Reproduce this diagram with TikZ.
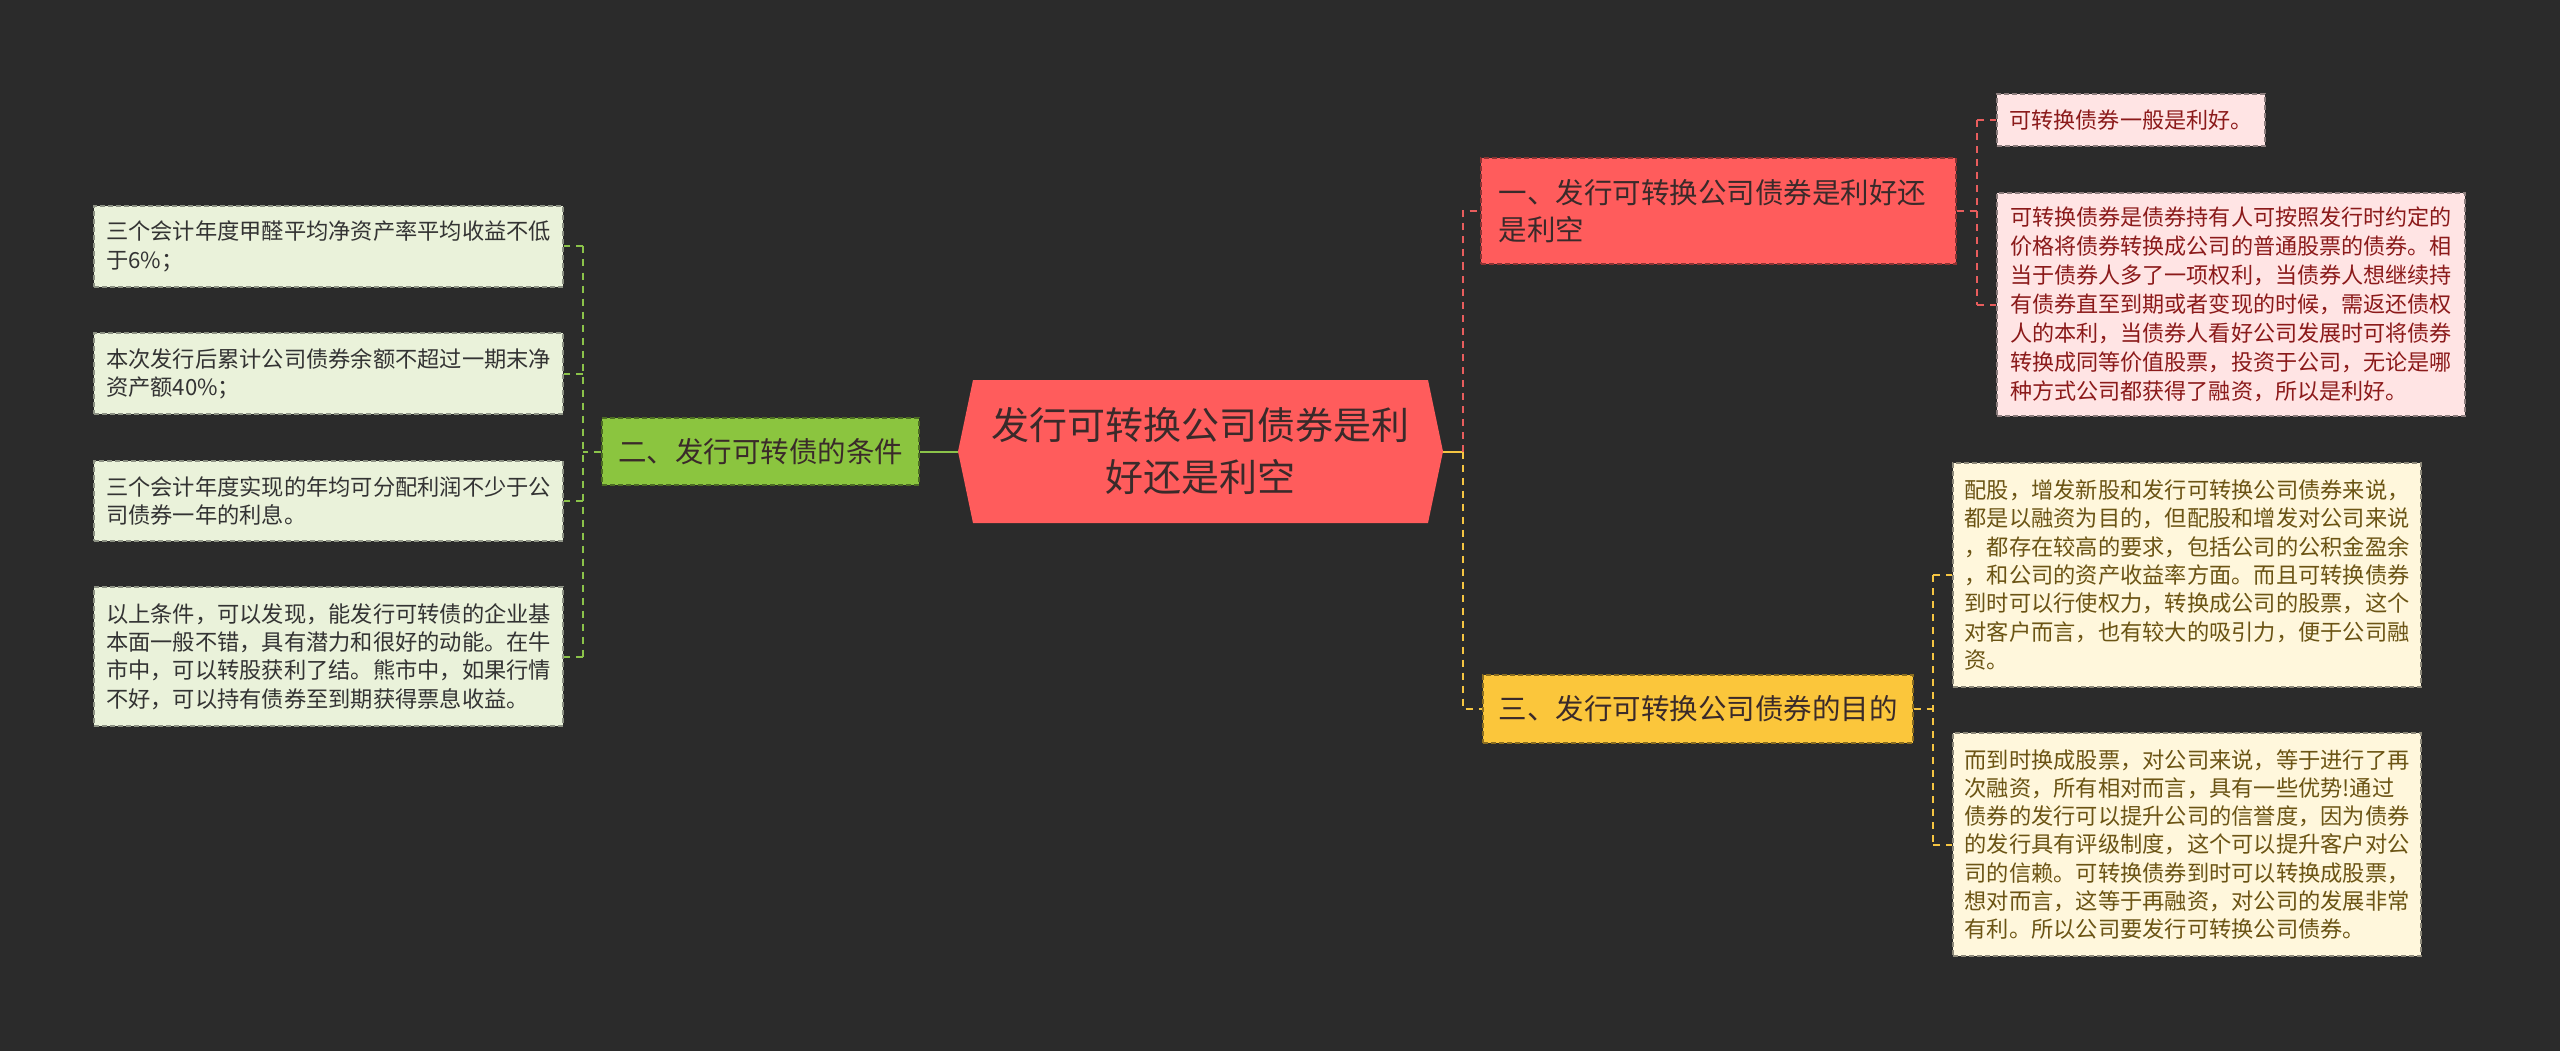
\documentclass[tikz,border=0pt]{standalone}
\usepackage{fontspec}
\newfontfamily\cjk{Noto Sans CJK SC}
\usetikzlibrary{calc}
\definecolor{bg}{HTML}{2B2B2B}
\definecolor{redfill}{HTML}{FF5C5C}
\definecolor{greenfill}{HTML}{8BC53F}
\definecolor{yellowfill}{HTML}{FBC63B}
\definecolor{leafg}{HTML}{EAF2DA}
\definecolor{leafr}{HTML}{FFE4E4}
\definecolor{leafy}{HTML}{FFF7DC}
\definecolor{ctext}{HTML}{3A2A2A}
\definecolor{rtext}{HTML}{8B1A1A}
\definecolor{ytext}{HTML}{6B5414}
\definecolor{gtext}{HTML}{333333}
\definecolor{gline}{HTML}{8BC34A}
\definecolor{rline}{HTML}{E85D5D}
\definecolor{yline}{HTML}{F5C542}
\tikzset{
  boxbase/.style={inner ysep=0pt, align=left, dashed, dash pattern=on 5pt off 3pt, line width=1.3pt},
  leafgbox/.style={boxbase, fill=leafg, draw=leafg!60!black, text=gtext, inner xsep=12pt, text width=445pt, minimum width=469pt,
    font={\cjk\fontsize{22.25}{28.3}\selectfont}},
  leafrbox/.style={boxbase, fill=leafr, draw=leafr!55!black, text=rtext, inner xsep=13pt, text width=442pt, minimum width=468pt,
    font={\cjk\fontsize{22.1}{29}\selectfont}},
  leafybox/.style={boxbase, fill=leafy, draw=leafy!55!black, text=ytext, inner xsep=11.5pt, text width=445pt, minimum width=468pt,
    font={\cjk\fontsize{22.25}{28.3}\selectfont}},
  subbox/.style={boxbase, font={\cjk\fontsize{28.5}{37.5}\selectfont}},
  gconn/.style={draw=gline, line width=2pt, dash pattern=on 7pt off 6pt},
  rconn/.style={draw=rline, line width=2pt, dash pattern=on 7pt off 6pt},
  yconn/.style={draw=yline, line width=2pt, dash pattern=on 7pt off 6pt},
}
\begin{document}
\begin{tikzpicture}[x=1pt,y=-1pt]
\useasboundingbox[fill=bg] (0,0) rectangle (2560,1051);

% central hexagon
\coordinate (cNW) at (973,380);
\coordinate (cNE) at (1428,380);
\coordinate (cE) at (1443,451.5);
\coordinate (cSE) at (1428,523);
\coordinate (cSW) at (973,523);
\coordinate (cW) at (958,451.5);
\fill[redfill] (cNW) -- (cNE) -- (cE) -- (cSE) -- (cSW) -- (cW) -- cycle;
\node[align=center, text=ctext, font={\cjk\fontsize{38}{52}\selectfont}, inner sep=0pt] (c) at (1200.5,451.5)
  {发行可转换公司债券是利\\好还是利空};

% second level
\node[subbox, fill=greenfill, draw=greenfill!55!black, text=ctext, align=center, inner xsep=16pt, text width=285pt, minimum height=67pt] (b2) at (760.5,451.5)
  {二、发行可转债的条件};
\node[subbox, fill=redfill, draw=redfill!55!black, text=ctext, inner xsep=17.5pt, text width=440pt, minimum height=106pt] (b1) at (1718.5,211)
  {一、发行可转换公司债券是利好还\\是利空};
\node[subbox, fill=yellowfill, draw=yellowfill!55!black, text=ctext, inner xsep=15.5pt, text width=399pt, minimum height=68pt] (b3) at (1698,709)
  {三、发行可转换公司债券的目的};

% left leaves
\node[leafgbox, minimum height=81pt] (L1) at (328.5,246.5)
  {三个会计年度甲醛平均净资产率平均收益不低\\于6\%；};
\node[leafgbox, minimum height=81pt] (L2) at (328.5,373.5)
  {本次发行后累计公司债券余额不超过一期末净\\资产额40\%；};
\node[leafgbox, minimum height=80pt] (L3) at (328.5,501)
  {三个会计年度实现的年均可分配利润不少于公\\司债券一年的利息。};
\node[leafgbox, minimum height=139pt] (L4) at (328.5,656.5)
  {以上条件，可以发现，能发行可转债的企业基\\本面一般不错，具有潜力和很好的动能。在牛\\市中，可以转股获利了结。熊市中，如果行情\\不好，可以持有债券至到期获得票息收益。};

% right leaves of 一
\node[leafrbox, text width=243pt, inner xsep=12.5pt, minimum width=268pt, minimum height=52pt] (R1) at (2131,120)
  {可转换债券一般是利好。};
\node[leafrbox, minimum height=223pt] (R2) at (2231,304.5)
  {可转换债券是债券持有人可按照发行时约定的\\价格将债券转换成公司的普通股票的债券。相\\当于债券人多了一项权利，当债券人想继续持\\有债券直至到期或者变现的时候，需返还债权\\人的本利，当债券人看好公司发展时可将债券\\转换成同等价值股票，投资于公司，无论是哪\\种方式公司都获得了融资，所以是利好。};

% right leaves of 三
\node[leafybox, minimum height=224pt] (Y1) at (2187,575)
  {配股，增发新股和发行可转换公司债券来说，\\都是以融资为目的，但配股和增发对公司来说\\，都存在较高的要求，包括公司的公积金盈余\\，和公司的资产收益率方面。而且可转换债券\\到时可以行使权力，转换成公司的股票，这个\\对客户而言，也有较大的吸引力，便于公司融\\资。};
\node[leafybox, minimum height=223pt] (Y2) at (2187,844.5)
  {而到时换成股票，对公司来说，等于进行了再\\次融资，所有相对而言，具有一些优势!通过\\债券的发行可以提升公司的信誉度，因为债券\\的发行具有评级制度，这个可以提升客户对公\\司的信赖。可转换债券到时可以转换成股票，\\想对而言，这等于再融资，对公司的发展非常\\有利。所以公司要发行可转换公司债券。};

% bus coordinates
\coordinate (lbus) at (583,451.5);
\coordinate (rbus) at (1463,451.5);
\coordinate (b1bus) at (1977,211);
\coordinate (b3bus) at (1933,709);

% connectors: centre to second level
\draw[draw=gline, line width=2pt] (b2.east) -- (cW);
\draw[draw=yline, line width=2pt] (cE) -- (rbus);
\draw[rconn] (rbus) -- (rbus |- b1.west) -- (b1.west);
\draw[yconn] (rbus) -- (rbus |- b3.west) -- (b3.west);

% left bus
\draw[gconn] (b2.west) -- (lbus);
\draw[gconn] (lbus |- L1.east) -- (lbus |- L4.east);
\draw[gconn] (lbus |- L1.east) -- (L1.east);
\draw[gconn] (lbus |- L2.east) -- (L2.east);
\draw[gconn] (lbus |- L3.east) -- (L3.east);
\draw[gconn] (lbus |- L4.east) -- (L4.east);

% 一 bus
\draw[rconn] (b1.east) -- (b1bus);
\draw[rconn] (b1bus |- R1.west) -- (b1bus |- R2.west);
\draw[rconn] (b1bus |- R1.west) -- (R1.west);
\draw[rconn] (b1bus |- R2.west) -- (R2.west);

% 三 bus
\draw[yconn] (b3.east) -- (b3bus);
\draw[yconn] (b3bus |- Y1.west) -- (b3bus |- Y2.west);
\draw[yconn] (b3bus |- Y1.west) -- (Y1.west);
\draw[yconn] (b3bus |- Y2.west) -- (Y2.west);
\end{tikzpicture}
\end{document}
